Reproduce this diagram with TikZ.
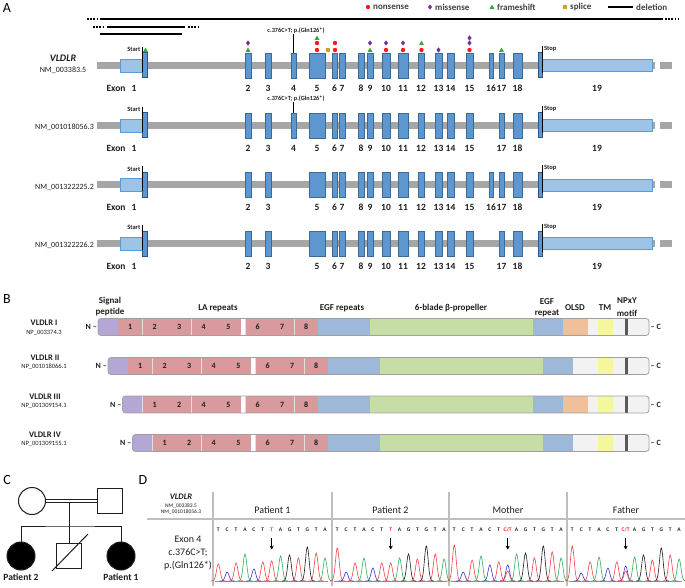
\documentclass[tikz,border=0pt]{standalone}
\usepackage{fontspec}
\setmainfont{Carlito}
\usetikzlibrary{arrows.meta}
\definecolor{exonf}{HTML}{5E97D0}
\definecolor{exond}{HTML}{3A6A98}
\definecolor{codd}{HTML}{2B5583}
\definecolor{utrf}{HTML}{9DC3E6}
\definecolor{utrd}{HTML}{5B9BD5}
\definecolor{intr}{HTML}{A6A6A6}
\definecolor{mnons}{HTML}{FF1A1A}
\definecolor{mmis}{HTML}{7030A0}
\definecolor{mfs}{HTML}{3DA33D}
\definecolor{mspl}{HTML}{C9A227}
\definecolor{csig}{HTML}{B4A7D6}
\definecolor{cla}{HTML}{D89A9C}
\definecolor{cegf}{HTML}{9DB8D9}
\definecolor{cprop}{HTML}{C6DEA6}
\definecolor{colsd}{HTML}{EFC09A}
\definecolor{ctm}{HTML}{F4F79E}
\definecolor{clg}{HTML}{F2F2F2}
\definecolor{cnp}{HTML}{595959}
\definecolor{cbord}{HTML}{A0A0A0}
\definecolor{txt}{HTML}{1E1E1E}
\definecolor{cT}{HTML}{F0434A}
\definecolor{cC}{HTML}{3434D0}
\definecolor{cA}{HTML}{2FAE5A}
\definecolor{cG}{HTML}{1E1E1E}
\definecolor{mutred}{HTML}{F02020}
\definecolor{sepg}{HTML}{BFBFBF}
\newcommand\fsz[1]{\fontsize{#1}{#1}\selectfont}
\newcommand\mkNon[2]{\fill[mnons] (#1,#2) circle (2.2pt);}
\newcommand\mkMis[2]{\fill[mmis] (#1,#2-2.6) -- (#1+2.1,#2) -- (#1,#2+2.6) -- (#1-2.1,#2) -- cycle;}
\newcommand\mkFs[2]{\fill[mfs] (#1-2.5,#2+2) -- (#1+2.5,#2+2) -- (#1,#2-2.4) -- cycle;}
\newcommand\mkSpl[2]{\fill[mspl] (#1-2.3,#2-2.3) rectangle (#1+2.3,#2+2.3);}
\tikzset{
  exonbox/.style={fill=exonf, draw=exond, line width=0.8pt},
  codbox/.style={fill=exonf, draw=codd, line width=1pt},
  utrbox/.style={fill=utrf, draw=utrd, line width=0.8pt},
  exlab/.style={font=\fsz{9.5}\bfseries, text=txt, inner sep=0pt},
  sslab/.style={font=\fsz{6.5}\bfseries, text=txt, inner sep=0pt},
  mutlab/.style={font=\fsz{6.3}\bfseries, text=txt, inner sep=0pt},
  txlab/.style={font=\fsz{8}, text=txt, inner sep=0pt},
  ticky/.style={draw=black, line width=0.7pt},
  legtxt/.style={font=\fsz{9}\bfseries, text=txt!85, anchor=west, inner sep=0pt},
  panel/.style={font=\fsz{14}, inner sep=0pt},
  segline/.style={draw=white!75!gray, line width=0.6pt},
  rowborder/.style={draw=cbord, line width=0.8pt, rounded corners=3pt},
  lanum/.style={font=\fsz{8}\bfseries, text=txt, inner sep=0pt},
  termlab/.style={font=\fsz{8}\bfseries, text=txt, inner sep=0pt},
  domlab/.style={font=\fsz{9}\bfseries, text=txt, inner sep=0pt, align=center},
  rowname/.style={font=\fsz{8.5}\bfseries, text=txt, inner sep=0pt},
  rowacc/.style={font=\fsz{6.5}, text=txt, inner sep=0pt},
  pedl/.style={draw=txt, line width=1pt},
  pedf/.style={draw=txt, line width=1pt, fill=white, inner sep=0pt},
  pedaff/.style={draw=txt, line width=1pt, fill=black, inner sep=0pt},
  pedname/.style={font=\fsz{9.5}\bfseries, text=txt, inner sep=0pt},
  sepl/.style={draw=sepg, line width=1.3pt},
  colhead/.style={font=\fsz{10}, text=txt, inner sep=0pt},
  leftlab/.style={font=\fsz{10}, text=txt, inner sep=0pt},
  seqlab/.style={font=\fsz{5.5}\bfseries, text=txt, inner sep=0pt},
  seqarrow/.style={-{Stealth[length=3.8pt,width=4.2pt]}, line width=1.1pt, draw=black},
  delline/.style={draw=black, line width=1.6pt},
  deldots/.style={draw=black, line width=1.6pt, dash pattern=on 1.6pt off 1.6pt},
}
% transcript: #1 y centre, #2 exon list macro, #3 id
\newcommand\transcript[3]{%
  \fill[intr] (97,#1-3.5) rectangle (655,#1+3.5);
  \fill[intr] (660,#1-3.5) rectangle (672,#1+3.5);
  \draw[utrbox] (120,#1-6.5) rectangle (142,#1+6.5);
  \draw[utrbox] (542,#1-6) rectangle (652,#1+6);
  \foreach \a/\b/\n in #2 {%
    \draw[exonbox] (\a,#1-12.5) rectangle (\b,#1+12.5);
    \node[exlab] (t#3e\n) at ({(\a+\b)/2},#1+22.5) {\n};}
  \draw[codbox] (142,#1-12.5) rectangle (147,#1+12.5);
  \draw[codbox] (538,#1-12.5) rectangle (542,#1+12.5);
  \draw[ticky] (142,#1-18.5) -- (142,#1+6.5);
  \node[sslab, anchor=east] (t#3start) at (140.5,#1-16) {Start};
  \draw[ticky] (542.3,#1-19.5) -- (542.3,#1+8);
  \node[sslab, anchor=west] (t#3stop) at (543.8,#1-17) {Stop};
  \node[exlab] (t#3exon) at (116,#1+22.5) {Exon};
  \node[exlab] (t#3e1) at (134,#1+22.5) {1};
  \node[exlab] (t#3e19) at (597,#1+22.5) {19};
}
\def\exTa{245/251/2,265/271/3,291/296/4,309/325/5,332/337/6,339/345/7,358/364/8,367/373/9,382/390/10,398/408/11,418/424/12,435/442/13,447/454/14,466/473/15,489/493/16,499/504/17,513/522/18}
\def\exTb{245/251/2,265/271/3,291/296/4,309/325/5,332/337/6,339/345/7,358/364/8,367/373/9,382/390/10,398/408/11,418/424/12,435/442/13,447/454/14,466/473/15,499/504/17,513/522/18}
\def\exTc{245/251/2,265/271/3,309/325/5,332/337/6,339/345/7,358/364/8,367/373/9,382/390/10,398/408/11,418/424/12,435/442/13,447/454/14,466/473/15,489/493/16,499/504/17,513/522/18}
\def\exTd{245/251/2,265/271/3,309/325/5,332/337/6,339/345/7,358/364/8,367/373/9,382/390/10,398/408/11,418/424/12,435/442/13,447/454/14,466/473/15,499/504/17,513/522/18}
% protein row: #1 y, #2 x0, #3 segments, #4 numbers, #5 id
\newcommand\protrow[5]{%
  \begin{scope}
    \clip[rounded corners=3pt] (#2,#1-8.5) rectangle (649,#1+8.5);
    \foreach \a/\b/\c in #3 {\fill[\c] (\a,#1-8.5) rectangle (\b,#1+8.5);
      \draw[segline] (\b,#1-8.5) -- (\b,#1+8.5);}
  \end{scope}
  \draw[rowborder] (#2,#1-8.5) rectangle (649,#1+8.5);
  \foreach \x/\t in #4 {\node[lanum] (r#5la\t) at (\x,#1) {\t};}
  \node[termlab, anchor=east] (r#5N) at (#2-1,#1) {N --};
  \node[termlab, anchor=west] (r#5C) at (650.5,#1) {-- C};
}
\def\segA{98/118/csig,118/142.5/cla,142.5/167/cla,167/191.5/cla,191.5/216/cla,216/241/cla,241/245.5/white,245.5/270/cla,270/294.5/cla,294.5/318/cla,318/344/cegf,344/370/cegf,370/533/cprop,533/563/cegf,563/588/colsd,588/598/clg,598/613/ctm,613/625/clg,625/628/cnp,628/649/clg}
\def\segB{108/128/csig,128/152.5/cla,152.5/177/cla,177/201.5/cla,201.5/226/cla,226/251/cla,251/255.5/white,255.5/280/cla,280/304.5/cla,304.5/328/cla,328/354/cegf,354/380/cegf,380/543/cprop,543/573/cegf,573/598/clg,598/613/ctm,613/625/clg,625/628/cnp,628/649/clg}
\def\segC{122.5/142.5/csig,142.5/167/cla,167/191.5/cla,191.5/216/cla,216/241/cla,241/245.5/white,245.5/270/cla,270/294.5/cla,294.5/318/cla,318/344/cegf,344/370/cegf,370/533/cprop,533/563/cegf,563/588/colsd,588/598/clg,598/613/ctm,613/625/clg,625/628/cnp,628/649/clg}
\def\segD{132.5/152.5/csig,152.5/177/cla,177/201.5/cla,201.5/226/cla,226/251/cla,251/255.5/white,255.5/280/cla,280/304.5/cla,304.5/328/cla,328/354/cegf,354/380/cegf,380/543/cprop,543/573/cegf,573/598/clg,598/613/ctm,613/625/clg,625/628/cnp,628/649/clg}
\def\numA{130.25/1,154.75/2,179.25/3,203.75/4,228.5/5,257.75/6,282.25/7,306.25/8}
\def\numB{140.25/1,164.75/2,189.25/3,213.75/4,238.5/5,267.75/6,292.25/7,316.25/8}
\def\numC{154.75/1,179.25/2,203.75/4,228.5/5,257.75/6,282.25/7,306.25/8}
\def\numD{164.75/1,189.25/2,213.75/4,238.5/5,267.75/6,292.25/7,316.25/8}
% chromatogram
\newcommand\chrom[2]{%
  \draw[cC!60, line width=0.4pt] (#1-3,581) -- (#1+110,581);
  \foreach \i/\h/\c in #2 {%
    \pgfmathsetmacro\pkx{#1+8.9*\i}%
    \pgfmathsetmacro\pka{\pkx-7.5}%
    \pgfmathsetmacro\pkb{\pkx+7.5}%
    \draw[\c, line width=0.6pt] plot[domain=\pka:\pkb, samples=23, smooth] (\x,{581-\h*exp(-((\x-\pkx)/2.6)*((\x-\pkx)/2.6))});
  }}
\newcommand\seqrow[3]{%
  \foreach \i/\l in {0/T,1/C,2/T,3/A,4/C,5/T,7/A,8/G,9/T,10/G,11/T,12/A}{\node[seqlab] (s#3b\i) at ({#1+8.9*\i},530) {\l};}
  \node[seqlab, text=mutred] (s#3b6) at ({#1+8.9*6},530) {#2};
  \draw[seqarrow] ({#1+8.9*6},538) -- ({#1+8.9*6},549.5);
}
\def\pkPa{0/17/cT,1/9/cC,2/18/cT,3/27/cA,4/12/cC,5/19/cT,6/20/cT,7/25/cA,8/26/cG,9/23/cT,10/34/cG,11/28/cT,12/23/cA}
\def\pkPb{0/33/cT,1/9/cC,2/18/cT,3/23/cA,4/13/cC,5/18/cT,6/18/cT,7/23/cA,8/27/cG,9/22/cT,10/35/cG,11/27/cT,12/22/cA}
\def\pkMo{0/36/cT,1/9/cC,2/21/cT,3/25/cA,4/16/cC,5/19/cT,6/16/cC,6/10/cT,7/27/cA,8/28/cG,9/23/cT,10/35/cG,11/29/cT,12/23/cA}
\def\pkFa{0/35/cT,1/8/cC,2/19/cT,3/24/cA,4/13/cC,5/19/cT,6/15/cC,6/10/cT,7/24/cA,8/26/cG,9/21/cT,10/33/cG,11/26/cT,12/22/cA}
\begin{document}
\begin{tikzpicture}[x=1pt,y=-1pt]
\useasboundingbox (0,0) rectangle (685,588);
\fill[white] (0,0) rectangle (685,588);
% ================= Panel A =================
\node[panel] (pA) at (7,8) {A};
% legend
\mkNon{368}{7}\node[legtxt] (lg1) at (373,7) {nonsense};
\mkMis{430}{7}\node[legtxt] (lg2) at (435,7) {missense};
\mkFs{492}{7}\node[legtxt] (lg3) at (497,7) {frameshift};
\mkSpl{565}{7}\node[legtxt] (lg4) at (570,7) {splice};
\draw[delline] (608,7) -- (633,7);\node[legtxt] (lg5) at (636,7) {deletion};
% deletions
\draw[deldots] (87,19) -- (99,19);
\draw[delline] (100,19) -- (663,19);
\draw[deldots] (665,19) -- (679,19);
\draw[deldots, line width=1.4pt] (93,27) -- (105,27);
\draw[delline, line width=1.4pt] (107,27) -- (185,27);
\draw[deldots, line width=1.4pt] (188,27) -- (200,27);
\draw[delline, line width=1.4pt] (100,34) -- (182,34);
% transcripts
\transcript{65.5}{\exTa}{a}
\transcript{125.5}{\exTb}{b}
\transcript{185}{\exTc}{c}
\transcript{243.5}{\exTd}{d}
\node[font=\fsz{10}\bfseries\itshape, text=txt, inner sep=0pt] (gname) at (63,58) {VLDLR};
\node[txlab] (nm1) at (63,70) {NM\_003383.5};
\node[txlab, anchor=east] (nm2) at (94,127.5) {NM\_001018056.3};
\node[txlab, anchor=east] (nm3) at (94,187) {NM\_001322225.2};
\node[txlab, anchor=east] (nm4) at (94,245.5) {NM\_001322226.2};
% c.376C>T labels
\node[mutlab] (mut1) at (296,31) {c.376C>T; p.(Gln126*)};
\draw[ticky] (293.5,34) -- (293.5,53);
\node[mutlab] (mut2) at (296,99) {c.376C>T; p.(Gln126*)};
\draw[ticky] (293.5,102) -- (293.5,113);
% variant markers
\mkFs{145.5}{50}
\mkMis{248}{43}\mkFs{248}{50}
\mkFs{317}{38}\mkNon{317}{43}\mkNon{317}{50}
\mkSpl{328}{50}\mkNon{335}{43}\mkNon{335}{50}
\mkMis{370}{43}\mkFs{370}{50}
\mkMis{386}{43}\mkNon{386}{50}
\mkMis{403}{43}\mkNon{403}{50}
\mkFs{421.5}{43}\mkNon{421.5}{50}
\mkMis{438.5}{50}
\mkMis{469.5}{38}\mkMis{469.5}{43}\mkNon{469.5}{50}
\mkFs{501.5}{50}
% ================= Panel B =================
\node[panel] (pB) at (7,299) {B};
\node[domlab] (hsig) at (110,301) {Signal};
\node[domlab] (hsig2) at (110,312) {peptide};
\node[domlab] (hla) at (218,308) {LA repeats};
\node[domlab] (hegf) at (342,308) {EGF repeats};
\node[domlab] (hprop) at (451,308) {6-blade β-propeller};
\node[domlab] (hegf2) at (547,302) {EGF};
\node[domlab] (hegf3) at (547,313) {repeat};
\node[domlab] (holsd) at (575,308) {OLSD};
\node[domlab] (htm) at (605,308) {TM};
\node[domlab] (hnp) at (627,301) {NPxY};
\node[domlab] (hnp2) at (627,313) {motif};
\protrow{327}{98}{\segA}{\numA}{a}
\protrow{366}{108}{\segB}{\numB}{b}
\protrow{404.5}{122.5}{\segC}{\numC}{c}
\protrow{443}{132.5}{\segD}{\numD}{d}
\node[rowname] (rn1) at (44,323) {VLDLR I};
\node[rowacc] (ra1) at (44,332.5) {NP\_003374.3};
\node[rowname] (rn2) at (45,357.5) {VLDLR II};
\node[rowacc] (ra2) at (44,367) {NP\_001018066.1};
\node[rowname] (rn3) at (45,396.5) {VLDLR III};
\node[rowacc] (ra3) at (44,405.5) {NP\_001309154.1};
\node[rowname] (rn4) at (45,435) {VLDLR IV};
\node[rowacc] (ra4) at (44,444) {NP\_001309155.1};
% ================= Panel C =================
\node[panel] (pC) at (7,480) {C};
\node[pedf, circle, minimum size=27pt] (mother) at (32,501) {};
\node[pedf, minimum size=25pt] (father) at (110,501) {};
\draw[pedl, double=white, double distance=2pt, line width=0.9pt] (mother.east) -- (father.west);
\coordinate (mid) at (69,502.4);
\coordinate (sib) at (69,526);
\node[pedaff, circle, minimum size=28pt] (pat2) at (21,556) {};
\node[pedf, minimum size=25pt] (bro) at (69,556) {};
\node[pedaff, circle, minimum size=28pt] (pat1) at (121,556) {};
\draw[pedl] (mid) -- (sib);
\draw[pedl] (pat2.north) |- (sib) -| (pat1.north);
\draw[pedl] (sib) -- (bro.north);
\draw[pedl] ([shift={(-17,15)}]bro.center) -- ([shift={(19,-22)}]bro.center);
\node[pedname] (lp2) at (21,577) {Patient 2};
\node[pedname] (lp1) at (121,577) {Patient 1};
% ================= Panel D =================
\node[panel] (pD) at (143,480) {D};
\draw[sepl] (147,519) -- (685,519);
\foreach \xs in {213,332,449,567} {\draw[sepl] (\xs,492) -- (\xs,586);}
\node[font=\fsz{8.5}\bfseries\itshape, text=txt, inner sep=0pt] (dg) at (181,497) {VLDLR};
\node[font=\fsz{5.5}, text=txt, inner sep=0pt] (dnm1) at (181,506) {NM\_003383.5};
\node[font=\fsz{5.5}, text=txt, inner sep=0pt] (dnm2) at (181,512) {NM\_001018056.3};
\node[colhead] (cp1) at (272.5,510) {Patient 1};
\node[colhead] (cp2) at (390.5,510) {Patient 2};
\node[colhead] (cmo) at (508,510) {Mother};
\node[colhead] (cfa) at (626,510) {Father};
\node[leftlab] (le1) at (188,539) {Exon 4};
\node[leftlab] (le2) at (188,553) {c.376C>T;};
\node[leftlab] (le3) at (188,566) {p.(Gln126*)};
\seqrow{218.3}{T}{a}
\seqrow{337.3}{T}{b}
\seqrow{454.3}{C/T}{c}
\seqrow{572.3}{C/T}{d}
\chrom{218.3}{\pkPa}
\chrom{337.3}{\pkPb}
\chrom{454.3}{\pkMo}
\chrom{572.3}{\pkFa}
\end{tikzpicture}
\end{document}
